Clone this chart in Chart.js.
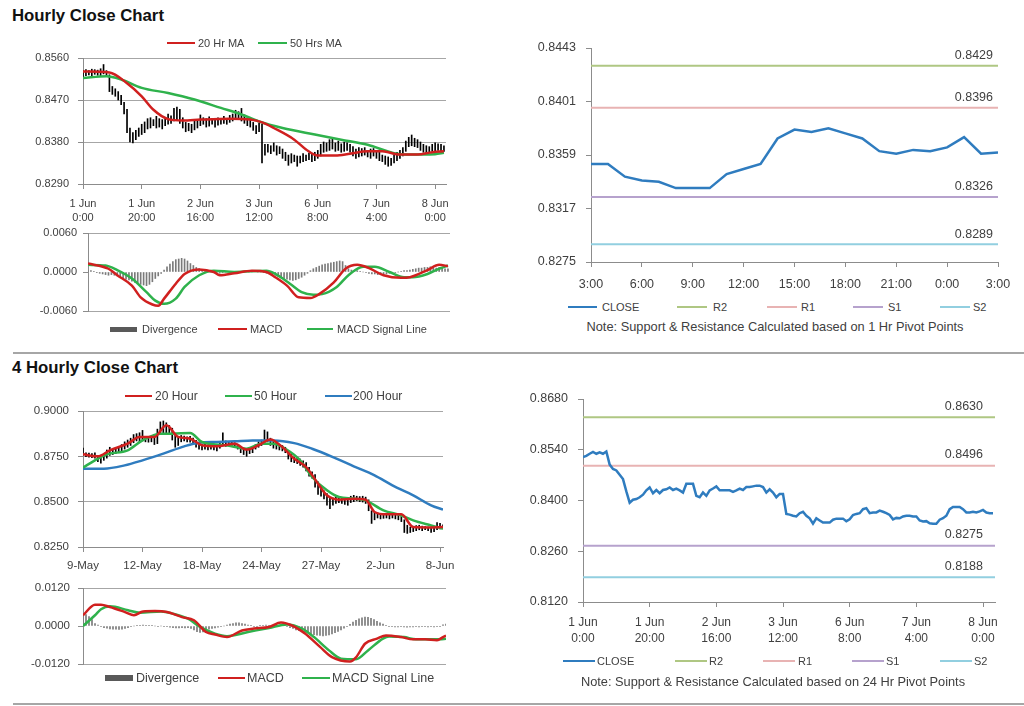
<!DOCTYPE html>
<html>
<head>
<meta charset="utf-8">
<script src="https://cdn.jsdelivr.net/npm/chart.js@4.4.0/dist/chart.umd.min.js"></script>
<style>
  body { margin: 0; width: 1024px; height: 706px; position: relative; overflow: hidden; background: #fff;
         font-family: Arial, "Liberation Sans", sans-serif; color: #404040; }
  .title { position: absolute; left: 12px; font-weight: bold; font-size: 16.8px; color: #111; line-height: 1; transform: translateY(-50%); }
  .rule { position: absolute; left: 13px; right: 0; height: 2px; background: #a6a6a6; }
  .txt { position: absolute; line-height: 1; white-space: nowrap; transform: translateY(-50%); }
  .sw { position: absolute; }
</style>
</head>
<body>
<div class="title" style="top:16px">Hourly Close Chart</div>
<div class="rule" style="top:352px"></div>
<div class="title" style="top:368px">4 Hourly Close Chart</div>
<div class="rule" style="top:703px"></div>

<script>
// ---------------- DATA ----------------
// Hourly chart (1 Jun 0:00 .. 8 Jun ~3:00), one bar per hour
const hourLowA = [0.8519,0.8522,0.8524,0.8521,0.8525,0.8523,0.8522,0.8526,0.8520,0.8488,
  0.8482,0.8478,0.8470,0.8460,0.8440,0.8400,0.8380,0.8378,0.8385,0.8392,
  0.8396,0.8400,0.8408,0.8410,0.8415,0.8410,0.8412,0.8408,0.8415,0.8418,
  0.8420,0.8425,0.8428,0.8420,0.8410,0.8402,0.8404,0.8400,0.8406,0.8410,
  0.8415,0.8418,0.8412,0.8414,0.8418,0.8412,0.8416,0.8418,0.8420,0.8418,
  0.8422,0.8425,0.8428,0.8430,0.8425,0.8420,0.8415,0.8412,0.8405,0.8398,
  0.8402,0.8335,0.8352,0.8358,0.8355,0.8360,0.8352,0.8355,0.8345,0.8340,
  0.8330,0.8335,0.8338,0.8328,0.8335,0.8338,0.8340,0.8342,0.8338,0.8340,
  0.8345,0.8350,0.8358,0.8360,0.8362,0.8365,0.8360,0.8362,0.8358,0.8360,
  0.8362,0.8358,0.8350,0.8345,0.8348,0.8350,0.8352,0.8348,0.8345,0.8350,
  0.8345,0.8340,0.8338,0.8332,0.8328,0.8330,0.8335,0.8340,0.8345,0.8350,
  0.8360,0.8370,0.8372,0.8370,0.8368,0.8362,0.8358,0.8355,0.8358,0.8360,
  0.8358,0.8362,0.8358,0.8360];
const hourHighA = [0.8533,0.8535,0.8533,0.8536,0.8535,0.8534,0.8537,0.8546,0.8533,0.8524,
  0.8499,0.8494,0.8488,0.8480,0.8465,0.8450,0.8410,0.8400,0.8405,0.8410,
  0.8418,0.8423,0.8430,0.8432,0.8428,0.8435,0.8430,0.8428,0.8432,0.8440,
  0.8436,0.8452,0.8455,0.8450,0.8432,0.8422,0.8420,0.8418,0.8425,0.8428,
  0.8438,0.8432,0.8430,0.8434,0.8430,0.8428,0.8432,0.8430,0.8435,0.8428,
  0.8437,0.8440,0.8448,0.8445,0.8452,0.8438,0.8430,0.8428,0.8422,0.8415,
  0.8420,0.8418,0.8375,0.8375,0.8372,0.8378,0.8372,0.8370,0.8365,0.8358,
  0.8352,0.8355,0.8352,0.8350,0.8350,0.8355,0.8352,0.8356,0.8355,0.8358,
  0.8362,0.8375,0.8380,0.8378,0.8385,0.8388,0.8378,0.8382,0.8376,0.8380,
  0.8378,0.8375,0.8370,0.8365,0.8368,0.8366,0.8368,0.8362,0.8365,0.8366,
  0.8360,0.8358,0.8352,0.8350,0.8348,0.8345,0.8352,0.8358,0.8362,0.8368,
  0.8382,0.8390,0.8395,0.8388,0.8385,0.8380,0.8375,0.8372,0.8370,0.8375,
  0.8378,0.8376,0.8375,0.8372];
const ma20HoursA = [0,9,15,20,24,29,34,40,50,57,61,65,72,76,80,86,91,97,102,108,114,119,123];
const ma20A = [0.8531,0.8529,0.8506,0.8478,0.8449,0.8429,0.8426,0.8428,0.8430,0.8428,0.8422,0.8410,0.8385,0.8364,0.8351,0.8351,0.8355,0.8360,0.8360,0.8353,0.8353,0.8358,0.8360];
const ma50HoursA = [0,8,13,20,29,38,47,54,60,68,79,88,97,106,110,120,123];
const ma50A = [0.8517,0.8521,0.8514,0.8496,0.8485,0.8471,0.8453,0.8439,0.8424,0.8410,0.8396,0.8385,0.8374,0.8356,0.8353,0.8354,0.8357];
const macdHoursA = [0,7,10,15,18,22,24,26,30,33,38,43,45,50,56,61,64,68,72,76,79,84,88,92,96,101,107,110,116,120,123];
const macdA = [0.0013,0.0005,-0.0005,-0.0021,-0.0039,-0.0050,-0.0052,-0.0041,-0.0018,-0.0003,0.0004,0.0000,-0.0005,-0.0002,0.0002,0.0000,-0.0008,-0.0021,-0.0039,-0.0040,-0.0034,-0.0016,0.0005,0.0011,0.0006,-0.0005,-0.0009,-0.0008,0.0003,0.0011,0.0009];
const signalHoursA = [0,6,10,15,20,23,26,30,33,38,43,50,61,64,69,73,77,80,85,89,94,98,103,108,111,116,120,123];
const signalA = [0.0011,0.0010,0.0003,-0.0010,-0.0031,-0.0044,-0.0049,-0.0041,-0.0023,-0.0005,0.0002,0.0000,0.0002,-0.0003,-0.0018,-0.0031,-0.0035,-0.0034,-0.0023,-0.0005,0.0008,0.0008,0.0000,-0.0008,-0.0008,-0.0003,0.0005,0.0010];
const divergenceA = [0.0002,0.0002,0.0001,-0.0001,-0.0002,-0.0003,-0.0004,-0.0005,-0.0004,-0.0005,
  -0.0006,-0.0008,-0.0010,-0.0011,-0.0012,-0.0014,-0.0016,-0.0018,-0.0019,-0.0020,
  -0.0021,-0.0019,-0.0015,-0.0010,-0.0006,-0.0002,0.0003,0.0008,0.0012,0.0016,
  0.0019,0.0020,0.0021,0.0020,0.0017,0.0013,0.0010,0.0007,0.0005,0.0003,
  0.0002,0.0001,0.0000,-0.0001,-0.0002,-0.0002,-0.0001,0.0000,0.0001,0.0001,
  0.0000,0.0000,0.0001,0.0001,0.0001,0.0000,0.0000,0.0001,0.0000,0.0000,
  -0.0001,-0.0002,-0.0003,-0.0004,-0.0005,-0.0007,-0.0009,-0.0010,-0.0011,-0.0012,
  -0.0013,-0.0012,-0.0010,-0.0008,-0.0005,-0.0002,0.0002,0.0005,0.0007,0.0009,
  0.0011,0.0012,0.0013,0.0014,0.0015,0.0016,0.0017,0.0016,0.0010,0.0005,
  0.0003,0.0002,0.0002,0.0001,0.0000,-0.0001,-0.0002,-0.0003,-0.0003,-0.0004,
  -0.0004,-0.0003,-0.0003,-0.0002,-0.0002,-0.0001,0.0000,0.0001,0.0002,0.0002,
  0.0003,0.0004,0.0005,0.0006,0.0006,0.0007,0.0007,0.0008,0.0007,0.0006,
  0.0007,0.0006,0.0005,0.0005];
const xTicksA = [0,20,40,60,80,100,120];
const xLabelsA = [['1 Jun','0:00'],['1 Jun','20:00'],['2 Jun','16:00'],['3 Jun','12:00'],['6 Jun','8:00'],['7 Jun','4:00'],['8 Jun','0:00']];
const yTicksA = [0.8290,0.8380,0.8470,0.8560];
const yTicksMacdA = [-0.006,0,0.006];

// Last 24 hours with 1 Hr pivot levels
const closeB = [0.8352,0.8352,0.8342,0.8339,0.8338,0.8333,0.8333,0.8333,0.8344,0.8348,0.8352,0.8372,0.8379,
  0.8377,0.8380,0.8376,0.8372,0.8362,0.8360,0.8363,0.8362,0.8365,0.8373,0.8360,0.8361];
const levelsB = [0.8429,0.8396,0.8326,0.8289]; // R2, R1, S1, S2
const xTicksB = [0,3,6,9,12,15,18,21,24];
const xLabelsB = ['3:00','6:00','9:00','12:00','15:00','18:00','21:00','0:00','3:00'];
const yTicksB = [0.8275,0.8317,0.8359,0.8401,0.8443];

// 4 hourly chart (9 May .. 8 Jun)
const barLowC = [0.8756,0.8748,0.8745,0.8742,0.8740,0.8720,0.8712,0.8728,0.8740,0.8755,
  0.8760,0.8765,0.8770,0.8775,0.8790,0.8800,0.8810,0.8825,0.8835,0.8830,
  0.8835,0.8830,0.8828,0.8830,0.8815,0.8820,0.8870,0.8880,0.8875,0.8870,
  0.8840,0.8800,0.8810,0.8830,0.8835,0.8830,0.8828,0.8815,0.8800,0.8790,
  0.8785,0.8790,0.8785,0.8790,0.8785,0.8780,0.8795,0.8810,0.8805,0.8810,
  0.8805,0.8800,0.8790,0.8770,0.8760,0.8750,0.8765,0.8770,0.8790,0.8800,
  0.8810,0.8825,0.8830,0.8810,0.8795,0.8790,0.8785,0.8780,0.8770,0.8735,
  0.8720,0.8715,0.8710,0.8700,0.8690,0.8670,0.8640,0.8630,0.8580,0.8540,
  0.8530,0.8515,0.8480,0.8462,0.8480,0.8490,0.8495,0.8490,0.8485,0.8480,
  0.8495,0.8500,0.8505,0.8500,0.8498,0.8490,0.8450,0.8380,0.8400,0.8410,
  0.8405,0.8408,0.8410,0.8405,0.8410,0.8405,0.8400,0.8390,0.8330,0.8325,
  0.8330,0.8335,0.8340,0.8345,0.8340,0.8345,0.8340,0.8330,0.8335,0.8345,
  0.8350,0.8355];
const barHighC = [0.8795,0.8770,0.8768,0.8765,0.8770,0.8755,0.8745,0.8760,0.8785,0.8800,
  0.8792,0.8798,0.8805,0.8815,0.8830,0.8840,0.8850,0.8870,0.8875,0.8880,
  0.8893,0.8860,0.8855,0.8858,0.8870,0.8900,0.8940,0.8945,0.8935,0.8920,
  0.8905,0.8870,0.8860,0.8865,0.8862,0.8858,0.8860,0.8850,0.8838,0.8825,
  0.8815,0.8818,0.8812,0.8815,0.8818,0.8812,0.8830,0.8880,0.8835,0.8832,
  0.8830,0.8825,0.8815,0.8800,0.8795,0.8790,0.8795,0.8805,0.8815,0.8830,
  0.8840,0.8895,0.8885,0.8850,0.8830,0.8825,0.8815,0.8810,0.8800,0.8780,
  0.8760,0.8745,0.8740,0.8735,0.8725,0.8715,0.8690,0.8665,0.8650,0.8610,
  0.8590,0.8560,0.8545,0.8520,0.8520,0.8525,0.8520,0.8518,0.8515,0.8515,
  0.8530,0.8535,0.8530,0.8528,0.8530,0.8525,0.8510,0.8450,0.8440,0.8438,
  0.8432,0.8435,0.8432,0.8430,0.8433,0.8428,0.8425,0.8418,0.8400,0.8370,
  0.8360,0.8362,0.8368,0.8370,0.8365,0.8362,0.8360,0.8358,0.8360,0.8385,
  0.8380,0.8372];
const ma20IdxC = [0,5,9,15,19,24,28,32,36,40,45,51,55,59,63,67,71,75,79,82,86,91,95,98,102,107,111,116,121];
const ma20C = [0.8761,0.8750,0.8783,0.8820,0.8857,0.8857,0.8921,0.8857,0.8847,0.8811,0.8805,0.8820,0.8787,0.8811,0.8843,0.8801,0.8737,0.8691,0.8599,0.8535,0.8511,0.8516,0.8511,0.8443,0.8430,0.8430,0.8360,0.8358,0.8360];
const ma50IdxC = [0,4,8,15,20,26,30,36,40,48,55,60,64,68,73,77,82,86,91,95,101,107,111,117,121];
const ma50C = [0.8688,0.8728,0.8761,0.8783,0.8838,0.8875,0.8875,0.8879,0.8829,0.8811,0.8792,0.8820,0.8820,0.8792,0.8728,0.8636,0.8563,0.8526,0.8517,0.8507,0.8452,0.8424,0.8397,0.8369,0.8351];
const ma200IdxC = [0,7,14,20,27,34,39,45,51,57,64,71,77,84,91,98,104,111,117,121];
const ma200C = [0.8682,0.8682,0.8700,0.8728,0.8765,0.8805,0.8825,0.8829,0.8833,0.8838,0.8838,0.8823,0.8792,0.8746,0.8695,0.8645,0.8590,0.8535,0.8480,0.8456];
const macdIdxD = [0,4,6,9,14,17,20,24,28,33,37,41,44,48,53,57,62,66,70,74,79,83,89,91,94,98,101,106,110,114,118,120,121];
const macdD = [0.0034,0.0067,0.0067,0.0060,0.0044,0.0034,0.0046,0.0047,0.0044,0.0028,0.0018,-0.0019,-0.0027,-0.0035,-0.0014,-0.0008,-0.0003,0.0011,0.0000,-0.0024,-0.0066,-0.0098,-0.0112,-0.0099,-0.0056,-0.0040,-0.0030,-0.0035,-0.0042,-0.0042,-0.0045,-0.0035,-0.0030];
const signalIdxD = [0,4,6,9,15,19,26,30,35,39,44,48,55,62,68,73,77,82,86,91,95,100,102,107,111,116,119,121];
const signalD = [0.0000,0.0034,0.0053,0.0062,0.0050,0.0042,0.0046,0.0039,0.0023,-0.0003,-0.0024,-0.0032,-0.0019,-0.0006,0.0005,-0.0008,-0.0035,-0.0077,-0.0103,-0.0105,-0.0077,-0.0040,-0.0033,-0.0035,-0.0042,-0.0042,-0.0042,-0.0040];
const divergenceD = [0.0035,0.0036,0.0030,0.0020,0.0008,0.0003,-0.0002,-0.0005,-0.0007,-0.0009,
  -0.0010,-0.0010,-0.0011,-0.0010,-0.0008,-0.0005,-0.0002,0.0000,0.0002,0.0002,
  0.0003,0.0002,0.0001,0.0001,0.0000,-0.0001,0.0000,-0.0001,-0.0002,-0.0004,
  -0.0005,-0.0006,-0.0006,-0.0005,-0.0006,-0.0005,-0.0008,-0.0012,-0.0018,-0.0020,
  -0.0019,-0.0015,-0.0010,-0.0008,-0.0006,-0.0004,-0.0002,0.0000,0.0003,0.0006,
  0.0008,0.0010,0.0010,0.0008,0.0006,0.0003,0.0001,-0.0001,-0.0002,0.0001,
  0.0002,0.0003,0.0002,0.0001,0.0000,-0.0001,0.0002,0.0001,-0.0002,-0.0005,
  -0.0008,-0.0012,-0.0015,-0.0018,-0.0020,-0.0022,-0.0025,-0.0027,-0.0029,-0.0030,
  -0.0031,-0.0030,-0.0028,-0.0025,-0.0021,-0.0017,-0.0012,-0.0007,-0.0002,0.0005,
  0.0012,0.0018,0.0023,0.0026,0.0028,0.0027,0.0024,0.0020,0.0015,0.0010,
  0.0006,0.0002,-0.0001,-0.0002,-0.0003,-0.0003,-0.0002,-0.0003,-0.0004,-0.0003,
  -0.0003,-0.0002,-0.0003,-0.0002,-0.0002,-0.0003,-0.0002,-0.0003,-0.0002,-0.0001,
  0.0004,0.0006];
const xTicksC = [0,20,40,60,80,100,120];
const xLabelsC = ['9-May','12-May','18-May','24-May','27-May','2-Jun','8-Jun'];
const yTicksC = [0.8250,0.8500,0.8750,0.9000];
const yTicksMacdD = [-0.012,0,0.012];

// Hourly close with 24 Hr pivot levels
const closeE = [0.8520,0.8523,0.8529,0.8534,0.8529,0.8533,0.8529,0.8535,0.8499,0.8487,
  0.8483,0.8471,0.8459,0.8425,0.8394,0.8402,0.8404,0.8409,0.8416,0.8428,
  0.8436,0.8420,0.8429,0.8420,0.8429,0.8431,0.8436,0.8429,0.8433,0.8428,
  0.8422,0.8446,0.8446,0.8446,0.8413,0.8409,0.8422,0.8413,0.8428,0.8433,
  0.8439,0.8428,0.8428,0.8428,0.8428,0.8424,0.8428,0.8433,0.8429,0.8437,
  0.8437,0.8439,0.8441,0.8441,0.8437,0.8422,0.8431,0.8422,0.8409,0.8418,
  0.8418,0.8363,0.8361,0.8358,0.8356,0.8365,0.8369,0.8358,0.8351,0.8336,
  0.8351,0.8345,0.8339,0.8339,0.8339,0.8347,0.8350,0.8350,0.8350,0.8343,
  0.8348,0.8360,0.8363,0.8365,0.8376,0.8379,0.8365,0.8367,0.8367,0.8372,
  0.8369,0.8365,0.8360,0.8348,0.8352,0.8351,0.8356,0.8358,0.8358,0.8356,
  0.8356,0.8345,0.8342,0.8343,0.8337,0.8336,0.8336,0.8347,0.8351,0.8358,
  0.8376,0.8382,0.8382,0.8382,0.8376,0.8367,0.8367,0.8369,0.8367,0.8370,
  0.8374,0.8367,0.8365,0.8365];
const levelsE = [0.8630,0.8496,0.8275,0.8188]; // R2, R1, S1, S2
const yTicksE = [0.8120,0.8260,0.8400,0.8540,0.8680];

const levelNames = ['R2','R1','S1','S2'];
const levelColors = ['#afc783','#e8b3b3','#b6a2cd','#92cfe0'];

// ---------------- STYLE ----------------
const GRID = '#a6a6a6';
const AXIS = '#8c8c8c';
const TEXT = '#404040';
const RED = '#d0201f';
const GREEN = '#2fb24c';
const BLUE = '#2f7cbf';

Chart.defaults.font.family = 'Arial, "Liberation Sans", sans-serif';
Chart.defaults.color = TEXT;
Chart.defaults.animation = false;
Chart.defaults.plugins.legend.display = false;
Chart.defaults.plugins.tooltip.enabled = false;

const pts = (xs, ys) => ys.map((y, i) => ({ x: xs[i], y }));
const seq = (ys) => ys.map((y, i) => ({ x: i, y }));

function xAxis(min, max, tickVals, labels, size, pad, onArea) {
  return {
    type: 'linear', min, max, offset: false,
    afterBuildTicks: (s) => { s.ticks = tickVals.map((v) => ({ value: v })); },
    ticks: { callback: (v, i) => labels[i], autoSkip: false, maxRotation: 0, padding: pad,
             font: { size, lineHeight: 1.3 }, color: TEXT },
    grid: { drawOnChartArea: !!onArea, offset: false, color: GRID, tickColor: AXIS, tickLength: 5 },
    border: { color: AXIS },
  };
}

function yAxis(tickVals, size, pad, grid, hideZero) {
  return {
    type: 'linear', min: tickVals[0], max: tickVals[tickVals.length - 1],
    afterBuildTicks: (s) => { s.ticks = tickVals.map((v) => ({ value: v })); },
    ticks: { callback: (v) => v.toFixed(4), padding: pad, font: { size }, color: TEXT },
    grid: {
      drawOnChartArea: grid,
      color: (c) => (hideZero && c.tick && c.tick.value === 0 ? 'rgba(0,0,0,0)' : GRID),
      tickColor: AXIS, tickLength: 5,
    },
    border: { color: AXIS },
  };
}

// box = canvas rect, area = wanted chart area in page pixels
function makeChart(box, area, xCfg, yCfg, datasets, plugins) {
  const cv = document.createElement('canvas');
  cv.width = box.w; cv.height = box.h;
  cv.style.cssText = `position:absolute;left:${box.x}px;top:${box.y}px;width:${box.w}px;height:${box.h}px`;
  document.body.appendChild(cv);
  const hidden = xCfg.display === false;
  const xH = hidden ? 0 : box.y + box.h - area.b;
  const yW = area.l - box.x;
  xCfg.afterFit = (s) => { s.height = xH; s.paddingLeft = 0; s.paddingRight = 0; };
  yCfg.afterFit = (s) => { s.width = yW; s.paddingTop = 0; s.paddingBottom = 0; };
  return new Chart(cv, {
    type: 'bar',
    data: { datasets },
    options: {
      responsive: false, devicePixelRatio: 1,
      layout: { padding: { left: 0, top: area.t - box.y, right: box.x + box.w - area.r, bottom: hidden ? box.y + box.h - area.b : 0 } },
      scales: { x: xCfg, y: yCfg },
    },
    plugins: plugins || [],
  });
}

function line(data, color, width, order) {
  return { type: 'line', data, borderColor: color, borderWidth: width, pointRadius: 0,
           cubicInterpolationMode: 'monotone', order };
}
function straight(data, color, width, order) {
  return { type: 'line', data, borderColor: color, borderWidth: width, pointRadius: 0, tension: 0, order };
}

function levelLabels(levels, dx, dy) {
  return {
    id: 'levelLabels',
    afterDatasetsDraw(chart) {
      const { ctx, chartArea, scales } = chart;
      ctx.save();
      ctx.font = '12.5px Arial, "Liberation Sans", sans-serif';
      ctx.fillStyle = TEXT;
      ctx.textAlign = 'right';
      ctx.textBaseline = 'middle';
      levels.forEach((v) => ctx.fillText(v.toFixed(4), chartArea.right - dx, scales.y.getPixelForValue(v) - dy));
      ctx.restore();
    },
  };
}

// ---------------- LEGENDS (html) ----------------
function legend(y, size, items) {
  items.forEach((it) => {
    const sw = document.createElement('div');
    sw.className = 'sw';
    const h = it.h || 2;
    sw.style.cssText = `left:${it.sx}px;top:${y - h / 2}px;width:${it.sw}px;height:${h}px;background:${it.color}`;
    document.body.appendChild(sw);
    const t = document.createElement('div');
    t.className = 'txt';
    t.style.cssText = `left:${it.tx}px;top:${y}px;font-size:${size}px`;
    t.textContent = it.label;
    document.body.appendChild(t);
  });
}
function note(cx, y, size, text) {
  const t = document.createElement('div');
  t.className = 'txt';
  t.style.cssText = `left:${cx}px;top:${y}px;font-size:${size}px;transform:translate(-50%,-50%)`;
  t.textContent = text;
  document.body.appendChild(t);
}

// ---------------- HOURLY: price + MAs ----------------
makeChart({ x: 0, y: 48, w: 462, h: 190 }, { l: 83, t: 58, r: 446, b: 184 },
  xAxis(0, 123.7, xTicksA, xLabelsA, 11, 8),
  yAxis(yTicksA, 11, 9, true, false),
  [
    line(pts(ma20HoursA, ma20A), RED, 2.5, 1),
    line(pts(ma50HoursA, ma50A), GREEN, 2.5, 2),
    { type: 'bar', data: hourLowA.map((lo, i) => ({ x: i, y: [lo, hourHighA[i]] })), backgroundColor: '#000', barThickness: 1, order: 3 },
  ]);
legend(43, 11, [
  { sx: 167, sw: 28, color: RED, tx: 198, label: '20 Hr MA' },
  { sx: 258, sw: 29, color: GREEN, tx: 290, label: '50 Hrs MA' },
]);

// ---------------- HOURLY: MACD ----------------
makeChart({ x: 0, y: 222, w: 462, h: 100 }, { l: 88, t: 233, r: 450, b: 311 },
  Object.assign(xAxis(0, 123.7, xTicksA, xLabelsA, 11, 6), { display: false }),
  yAxis(yTicksMacdA, 11, 6, true, true),
  [
    line(pts(macdHoursA, macdA), RED, 2.5, 1),
    line(pts(signalHoursA, signalA), GREEN, 2.5, 2),
    { type: 'bar', data: seq(divergenceA), backgroundColor: '#7a7a7a', barThickness: 1, order: 3 },
  ]);
legend(329, 11, [
  { sx: 110, sw: 27, h: 5, color: '#595959', tx: 142, label: 'Divergence' },
  { sx: 218, sw: 29, color: RED, tx: 250, label: 'MACD' },
  { sx: 307, sw: 26, color: GREEN, tx: 337, label: 'MACD Signal Line' },
]);

// ---------------- HOURLY: last 24h with pivots ----------------
makeChart({ x: 520, y: 36, w: 504, h: 264 }, { l: 591, t: 48, r: 998, b: 262 },
  xAxis(0, 24, xTicksB, xLabelsB, 12.5, 9),
  yAxis(yTicksB, 12.5, 10, false, false),
  [
    straight(seq(closeB), BLUE, 2.5, 0),
    ...levelsB.map((v, k) => straight([{ x: 0, y: v }, { x: 24, y: v }], levelColors[k], 2, 1 + k)),
  ],
  [levelLabels(levelsB, 5, 10)]);
legend(307, 11, [
  { sx: 568, sw: 29, color: BLUE, tx: 602, label: 'CLOSE' },
  ...levelNames.map((n, k) => ({ sx: [677, 767, 853, 940][k], sw: 30, color: levelColors[k], tx: [713, 801, 888, 973][k], label: n })),
]);
note(775, 327, 12.8, 'Note: Support & Resistance Calculated based on 1 Hr Pivot Points');

// ---------------- 4 HOURLY: price + MAs ----------------
makeChart({ x: 0, y: 400, w: 462, h: 182 }, { l: 83, t: 411, r: 443, b: 547 },
  xAxis(0, 121, xTicksC, xLabelsC, 11.5, 6),
  yAxis(yTicksC, 11.5, 9, true, false),
  [
    line(pts(ma20IdxC, ma20C), RED, 2.5, 1),
    line(pts(ma50IdxC, ma50C), GREEN, 2.5, 2),
    line(pts(ma200IdxC, ma200C), BLUE, 2.5, 3),
    { type: 'bar', data: barLowC.map((lo, i) => ({ x: i, y: [lo, barHighC[i]] })), backgroundColor: '#000', barThickness: 1, order: 4 },
  ]);
legend(396, 12, [
  { sx: 125, sw: 27, color: RED, tx: 155, label: '20 Hour' },
  { sx: 225, sw: 27, color: GREEN, tx: 254, label: '50 Hour' },
  { sx: 325, sw: 27, color: BLUE, tx: 353, label: '200 Hour' },
]);

// ---------------- 4 HOURLY: MACD ----------------
makeChart({ x: 0, y: 578, w: 462, h: 96 }, { l: 83, t: 588, r: 446, b: 664 },
  Object.assign(xAxis(0, 121, xTicksC, xLabelsC, 11, 6), { display: false }),
  yAxis(yTicksMacdD, 11.5, 8, true, true),
  [
    line(pts(macdIdxD, macdD), RED, 2.5, 1),
    line(pts(signalIdxD, signalD), GREEN, 2.5, 2),
    { type: 'bar', data: seq(divergenceD), backgroundColor: '#7a7a7a', barThickness: 1, order: 3 },
  ]);
legend(678, 12.5, [
  { sx: 105, sw: 28, h: 6, color: '#595959', tx: 136, label: 'Divergence' },
  { sx: 218, sw: 27, color: RED, tx: 247, label: 'MACD' },
  { sx: 302, sw: 28, color: GREEN, tx: 332, label: 'MACD Signal Line' },
]);

// ---------------- 4 HOURLY: hourly close with 24h pivots ----------------
makeChart({ x: 520, y: 387, w: 504, h: 264 }, { l: 583, t: 399, r: 995, b: 602 },
  xAxis(0, 123.6, xTicksA, xLabelsA, 12, 8),
  yAxis(yTicksE, 12.5, 10, false, false),
  [
    straight(seq(closeE), BLUE, 2.5, 0),
    ...levelsE.map((v, k) => straight([{ x: 0, y: v }, { x: 123.6, y: v }], levelColors[k], 2, 1 + k)),
  ],
  [levelLabels(levelsE, 12, 11)]);
legend(661, 11, [
  { sx: 563, sw: 32, color: BLUE, tx: 597, label: 'CLOSE' },
  ...levelNames.map((n, k) => ({ sx: [675, 763, 852, 940][k], sw: 32, color: levelColors[k], tx: [709, 798, 886, 974][k], label: n })),
]);
note(773, 682, 12.8, 'Note: Support & Resistance Calculated based on 24 Hr Pivot Points');
</script>
</body>
</html>
